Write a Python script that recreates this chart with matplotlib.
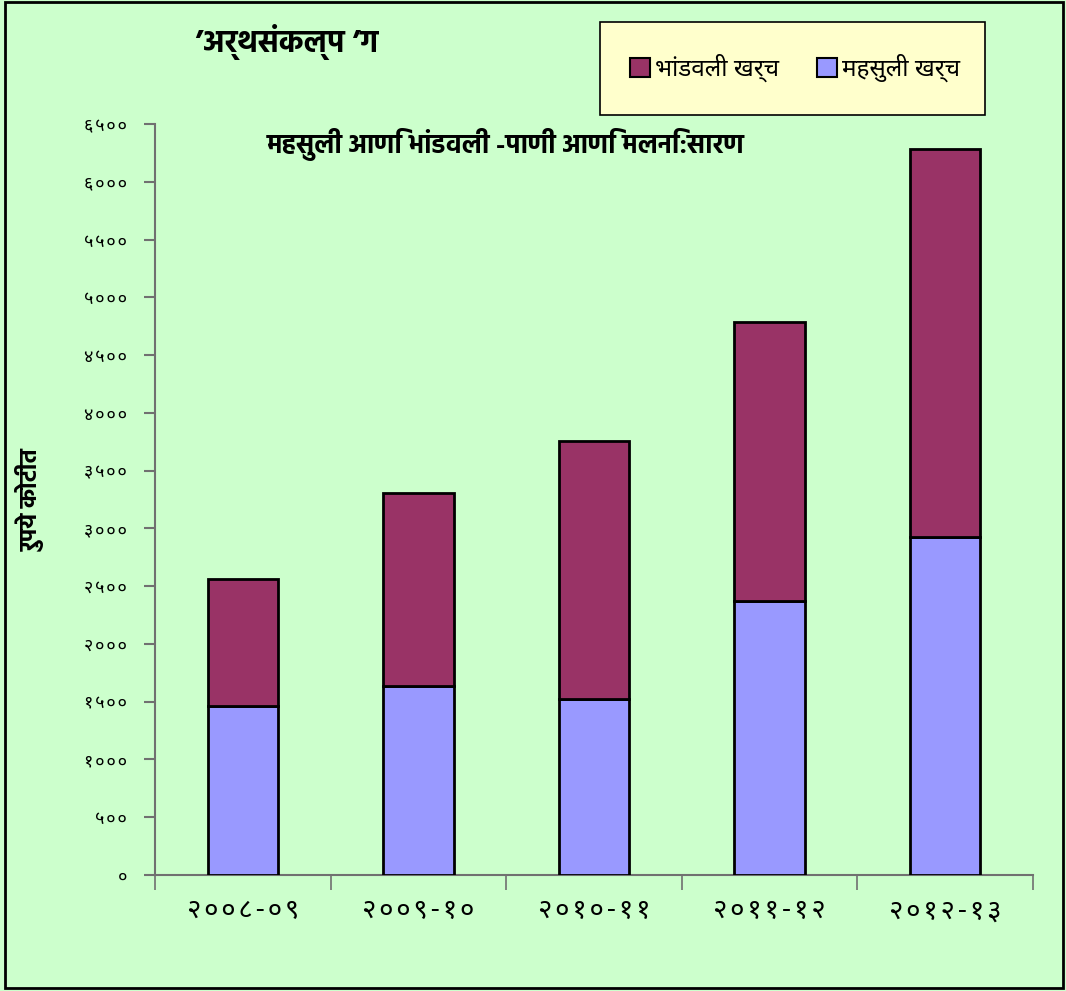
import matplotlib
matplotlib.use("Agg")
import matplotlib.pyplot as plt
from matplotlib.patches import Rectangle, Patch

# ---- data ----
years = ["२००८-०९", "२००९-१०", "२०१०-११", "२०११-१२", "२०१२-१३"]
revenue = [1463, 1636, 1523, 2371, 2925]          # महसुली खर्च
capital = [1099, 1670, 2233, 2415, 3358]          # भांडवली खर्च
ytick_vals = [0, 500, 1000, 1500, 2000, 2500, 3000, 3500, 4000, 4500, 5000, 5500, 6000, 6500]
ytick_labels = ["०", "५००", "१०००", "१५००", "२०००", "२५००", "३०००",
                "३५००", "४०००", "४५००", "५०००", "५५००", "६०००", "६५००"]
title = "’अर्थसंकल्प ’ग"
subtitle = "महसुली आणि भांडवली -पाणी आणि मलनि:सारण"
ylabel = "रुपये कोटीत"
legend_labels = ["भांडवली खर्च", "महसुली खर्च"]

HAIR = "\u200A"
def spaced(s):
    return HAIR.join(list(s))

FONT = ["Noto Sans Devanagari", "DejaVu Sans"]
BOLD = ["Hind", "DejaVu Sans"]
plt.rcParams["font.family"] = FONT

BG = "#CCFFCC"
C_CAP = "#993366"
C_REV = "#9999FF"

fig = plt.figure(figsize=(10.66, 9.91), dpi=100, facecolor=BG)
# outer frame
fig.patches.append(Rectangle((0.005, 0.003), 0.992, 0.995, transform=fig.transFigure,
                             fill=False, edgecolor="black", linewidth=2, zorder=0))

ax = fig.add_axes([0.1454, 0.1171, 0.8236, 0.7578])
ax.set_facecolor(BG)

x = list(range(len(years)))
ax.bar(x, revenue, width=0.4, color=C_REV, edgecolor="black", linewidth=2, zorder=3)
ax.bar(x, capital, width=0.4, bottom=revenue, color=C_CAP, edgecolor="black",
       linewidth=2, zorder=3)

ax.set_xlim(-0.5, 4.5)
ax.set_ylim(0, 6500)
ax.set_yticks(ytick_vals)
ax.set_yticklabels([spaced(t) for t in ytick_labels], fontsize=13)
ax.tick_params(axis="y", length=8, width=1.5, color="#707070", pad=12)

ax.set_xticks([i - 0.5 for i in range(len(years) + 1)])
ax.set_xticklabels([])
ax.set_xticks(x, minor=True)
ax.set_xticklabels([spaced(t) for t in years], minor=True, fontsize=20)
ax.tick_params(axis="x", which="major", length=11, width=1.2, color="#707070")
ax.tick_params(axis="x", which="minor", length=0, pad=16)

for s in ["top", "right"]:
    ax.spines[s].set_visible(False)
for s in ["left", "bottom"]:
    ax.spines[s].set_color("#707070")
    ax.spines[s].set_linewidth(1.5)

# texts
fig.text(0.183, 0.9576, title, fontsize=22, fontweight="bold", family=BOLD,
         va="center", ha="left")
fig.text(0.4747, 0.8537, subtitle, fontsize=19, fontweight="bold", family=BOLD,
         va="center", ha="center")
fig.text(0.028, 0.4955, ylabel, fontsize=17, fontweight="bold", family=BOLD, rotation=90,
         va="center", ha="center")

# legend box
fig.patches.append(Rectangle((0.5629, 0.8840), 0.3611, 0.0938, transform=fig.transFigure,
                             facecolor="#FFFFCC", edgecolor="black", linewidth=1.2, zorder=1))
handles = [Patch(facecolor=C_CAP, edgecolor="black", linewidth=1.5),
           Patch(facecolor=C_REV, edgecolor="black", linewidth=1.5)]
fig.legend(handles, legend_labels, loc="center", bbox_to_anchor=(0.7458, 0.9314),
           ncol=2, frameon=False, fontsize=17.5, handlelength=0.8, handleheight=0.8,
           handletextpad=0.2, columnspacing=1.6)

fig.savefig("out.png", dpi=100, facecolor=BG)
